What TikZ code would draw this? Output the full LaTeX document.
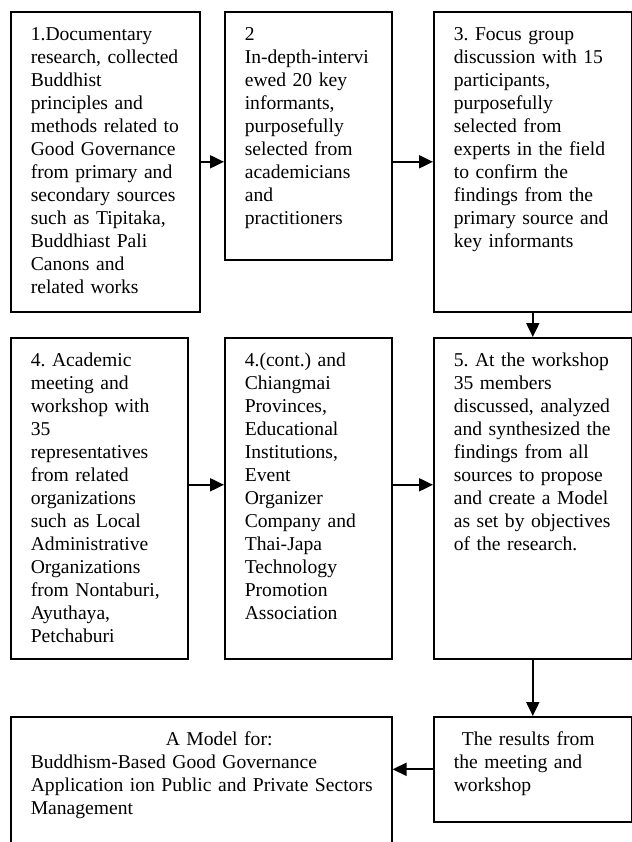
\documentclass[tikz,border=0pt]{standalone}
\usepackage{fontspec}
\setmainfont{Liberation Serif}
\usetikzlibrary{arrows.meta}
\newcommand{\boxlines}[1]{\begin{tabular}[t]{@{}l@{}}#1\end{tabular}}

\begin{document}
\begin{tikzpicture}[x=0.5pt,y=-0.5pt,
    stage/.style={draw, line width=0.8pt, anchor=north west, align=left,
        inner xsep=10pt, inner ysep=0pt, text height=14.5pt,
        font=\fontsize{9.8pt}{11.5pt}\selectfont\frenchspacing},
    flow/.style={-{Triangle[length=7pt,width=6.5pt]}, line width=1pt}]

    \useasboundingbox (0,0) rectangle (632,842);

    % first row
    \node[stage, text width=74.5pt, text depth=135.5pt] (doc) at (10,11)
        {\boxlines{1.Documentary\\ research, collected\\ Buddhist\\ principles and\\ methods related to\\ Good Governance\\ from primary and\\ secondary sources\\ such as Tipitaka,\\ Buddhiast Pali\\ Canons and\\ related works}};
    \node[stage, text width=63.5pt, text depth=109.5pt] (interview) at (224,11)
        {\boxlines{2\\ In-depth-intervi\\ ewed 20 key\\ informants,\\ purposefully\\ selected from\\ academicians\\ and\\ practitioners}};
    \node[stage, text width=79pt, text depth=135.5pt] (focus) at (433,11)
        {\boxlines{3. Focus group\\ discussion with 15\\ participants,\\ purposefully\\ selected from\\ experts in the field\\ to confirm the\\ findings from the\\ primary source and\\ key informants}};

    % second row
    \node[stage, text width=68.5pt, text depth=146pt] (meeting) at (10,337)
        {\boxlines{4. Academic\\ meeting and\\ workshop with\\ 35\\ representatives\\ from related\\ organizations\\ such as Local\\ Administrative\\ Organizations\\ from Nontaburi,\\ Ayuthaya,\\ Petchaburi}};
    \node[stage, text width=63.5pt, text depth=146pt] (cont) at (224,337)
        {\boxlines{4.(cont.) and\\ Chiangmai\\ Provinces,\\ Educational\\ Institutions,\\ Event\\ Organizer\\ Company and\\ Thai-Japa\\ Technology\\ Promotion\\ Association}};
    \node[stage, text width=79pt, text depth=146pt] (workshop) at (433,337)
        {\boxlines{5. At the workshop\\ 35 members\\ discussed, analyzed\\ and synthesized the\\ findings from all\\ sources to propose\\ and create a Model\\ as set by objectives\\ of the research.}};

    % third row
    \node[stage, text width=170.5pt, text depth=55.5pt] (model) at (10,716)
        {\boxlines{\hspace*{67.5pt}A Model for:\\ Buddhism-Based Good Governance\\ Application ion Public and Private Sectors\\ Management}};
    \node[stage, text width=79pt, text depth=38pt] (results) at (433,716)
        {\boxlines{\hspace*{4pt}The results from\\ the meeting and\\ workshop}};

    % arrows
    \draw[flow] (doc.east) -- (doc.east -| interview.west);
    \draw[flow] (focus.west -| interview.east) -- (focus.west);
    \draw[flow] (focus.south) -- (workshop.north);
    \coordinate (row2) at ([yshift=6.75pt]meeting.east);
    \draw[flow] (row2) -- (row2 -| cont.west);
    \draw[flow] (row2 -| cont.east) -- (row2 -| workshop.west);
    \draw[flow] (workshop.south) -- (results.north);
    \draw[flow] (results.west) -- (results.west -| model.east);

\end{tikzpicture}
\end{document}
